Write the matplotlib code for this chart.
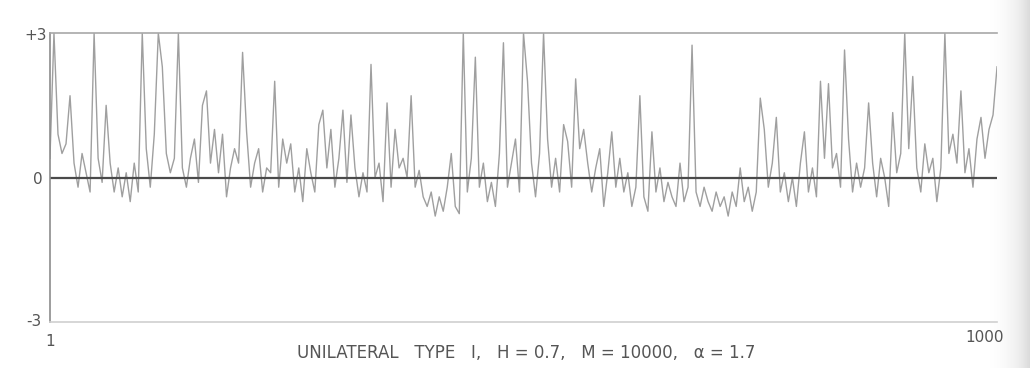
import numpy as np
import matplotlib
matplotlib.use('Agg')
import matplotlib.pyplot as plt

# Значения ряда (237 точек на отрезке 1..1000)
values = [
    0.4, 3.0, 0.9, 0.5, 0.7, 1.7, 0.3, -0.2, 0.5, 0.1,
    -0.3, 3.0, 0.4, -0.1, 1.5, 0.3, -0.3, 0.2, -0.4, 0.1,
    -0.5, 0.3, -0.3, 3.0, 0.6, -0.2, 0.9, 3.0, 2.3, 0.5,
    0.1, 0.4, 3.0, 0.2, -0.2, 0.4, 0.8, -0.1, 1.5, 1.8,
    0.3, 1.0, 0.1, 0.9, -0.4, 0.2, 0.6, 0.3, 2.6, 0.95,
    -0.2, 0.3, 0.6, -0.3, 0.2, 0.1, 2.0, -0.2, 0.8, 0.3,
    0.7, -0.3, 0.2, -0.5, 0.6, 0.1, -0.3, 1.1, 1.4, 0.2,
    1.0, -0.2, 0.4, 1.4, -0.1, 1.3, 0.2, -0.4, 0.1, -0.3,
    2.35, 0.0, 0.3, -0.5, 1.55, -0.2, 1.0, 0.2, 0.4, 0.0,
    1.7, -0.2, 0.15, -0.4, -0.6, -0.3, -0.8, -0.4, -0.7, -0.2,
    0.5, -0.6, -0.75, 3.0, -0.3, 0.4, 2.5, -0.2, 0.3, -0.5,
    -0.1, -0.6, 0.5, 2.8, -0.2, 0.3, 0.8, -0.3, 3.0, 2.0,
    0.3, -0.4, 0.5, 3.0, 0.8, -0.2, 0.4, -0.3, 1.1, 0.75,
    -0.2, 2.05, 0.6, 1.0, 0.3, -0.3, 0.2, 0.6, -0.6, 0.1,
    0.95, -0.2, 0.4, -0.3, 0.1, -0.6, -0.2, 1.7, -0.4, -0.7,
    0.95, -0.3, 0.2, -0.5, -0.1, -0.4, -0.6, 0.3, -0.5, -0.2,
    2.75, -0.3, -0.6, -0.2, -0.5, -0.7, -0.3, -0.6, -0.4, -0.8,
    -0.3, -0.6, 0.2, -0.5, -0.2, -0.7, -0.3, 1.65, 1.0, -0.2,
    0.3, 1.25, -0.3, 0.1, -0.5, 0.0, -0.6, 0.3, 0.95, -0.3,
    0.2, -0.4, 2.0, 0.4, 1.95, 0.2, 0.5, -0.2, 2.65, 0.8,
    -0.3, 0.3, -0.2, 0.2, 1.55, 0.3, -0.4, 0.4, 0.0, -0.6,
    1.35, 0.1, 0.5, 3.0, 0.6, 2.1, 0.2, -0.3, 0.7, 0.1,
    0.4, -0.5, 0.2, 3.0, 0.5, 0.9, 0.3, 1.8, 0.1, 0.6,
    -0.2, 0.8, 1.25, 0.4, 1.0, 1.3, 2.3,
]
x_start, x_end = 1, 1000
y_labels = ['+3', '0', '-3']
title = 'UNILATERAL   TYPE   I,   H = 0.7,   M = 10000,   \u03b1 = 1.7'

x = np.linspace(x_start, x_end, len(values))

fig = plt.figure(figsize=(10.3, 3.68), dpi=100)

# лёгкое затемнение у правого края, как на скане
bg = fig.add_axes([0.955, 0, 0.045, 1], zorder=-1)
bg.imshow(np.linspace(0, 1, 50)[None, :] ** 2, aspect='auto', cmap='Greys',
          vmin=0, vmax=4, extent=[0, 1, 0, 1])
bg.axis('off')

ax = fig.add_axes([0.0485, 0.125, 0.9195, 0.785])
ax.patch.set_alpha(0)

ax.plot(x, values, color='#959595', lw=1.0, alpha=0.9)
ax.axhline(0, color='#4a4a4a', lw=1.6)

ax.set_xlim(x_start, x_end)
ax.set_ylim(-3, 3)
ax.set_xticks([])
ax.set_yticks([])

# рамка как на скане
ax.spines['right'].set_visible(False)
ax.spines['top'].set_color('#a8a8a8')
ax.spines['left'].set_color('#8c8c8c')
ax.spines['bottom'].set_color('#d0d0d0')
for s in ['top', 'left', 'bottom']:
    ax.spines[s].set_linewidth(1.2)

txt = dict(color='#555555', fontsize=11, family='DejaVu Sans')
fig.text(24 / 1030, 1 - 36 / 368, y_labels[0], ha='left', va='center', **txt)
fig.text(33 / 1030, 1 - 180 / 368, y_labels[1], ha='left', va='center', **txt)
fig.text(26 / 1030, 1 - 322 / 368, y_labels[2], ha='left', va='center', **txt)
fig.text(50 / 1030, 1 - 342 / 368, str(x_start), ha='center', va='center', **txt)
fig.text(985 / 1030, 1 - 338 / 368, str(x_end), ha='center', va='center', **txt)
fig.text(526 / 1030, 1 - 353 / 368, title, ha='center', va='center',
         color='#555555', fontsize=12, family='DejaVu Sans')

plt.savefig('out.png', dpi=100)
plt.close()
